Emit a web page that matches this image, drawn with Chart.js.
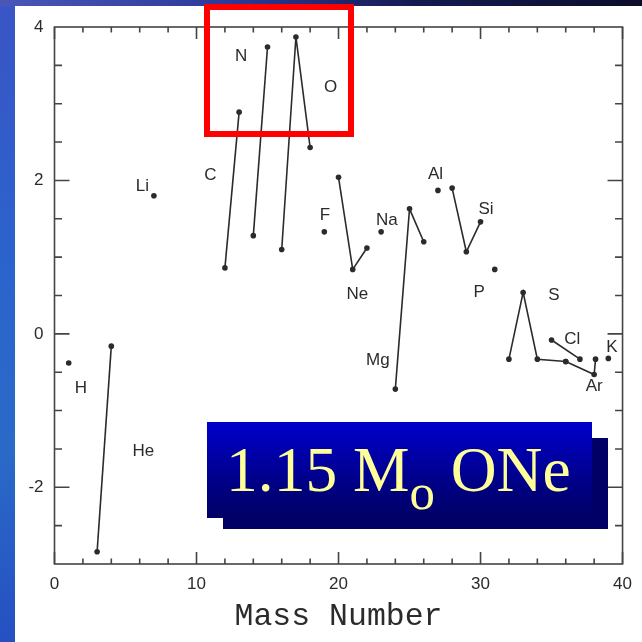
<!DOCTYPE html>
<html>
<head>
<meta charset="utf-8">
<title>1.15 Mo ONe</title>
<script src="https://cdn.jsdelivr.net/npm/chart.js@4.4.1/dist/chart.umd.min.js"></script>
<style>
    html, body { margin: 0; padding: 0; width: 642px; height: 642px; overflow: hidden; }
    body { position: relative; background: linear-gradient(to bottom, #3a55c6 0%, #2b63cc 40%, #2a6ac8 70%, #2550c2 100%); }
    #topStrip { position: absolute; left: 0; top: 0; width: 642px; height: 6px;
        background: linear-gradient(to right, #4a56b8 0%, #2c3a9c 35%, #141a50 65%, #0b0d2a 100%); }
    #panel { position: absolute; left: 15px; top: 6px; right: 0; bottom: 0; background: #ffffff; }
    #chart { position: absolute; left: 0; top: 0; }
    #redBox { position: absolute; left: 204px; top: 4px; width: 150px; height: 133px;
        border: 6px solid #ff0000; box-sizing: border-box; }
    #boxShadow { position: absolute; left: 223px; top: 438px; width: 385px; height: 91px; background: #000066; }
    #boxFront { position: absolute; left: 207px; top: 422px; width: 385px; height: 96px;
        background: linear-gradient(to bottom, #0000cc 0%, #000080 70%, #000066 100%); }
    #boxText { position: absolute; left: 19px; top: 0; line-height: 96px; white-space: nowrap;
        font-family: "Liberation Serif", serif; font-size: 63.5px; color: #ffff99; }
    #boxText sub { font-size: 0.8em; vertical-align: -18px; line-height: 0; }
</style>
</head>
<body>
<div id="topStrip"></div>
<div id="panel"></div>
<canvas id="chart" width="642" height="642"></canvas>
<div id="redBox"></div>
<div id="boxShadow"></div>
<div id="boxFront"><div id="boxText">1.15 M<sub>o</sub> ONe</div></div>

<script>
(function() {
    'use strict';

    // Axis ranges and ticks
    const xMin = 0, xMax = 40;
    const yMin = -3, yMax = 4;
    const xLabelTicks = [0, 10, 20, 30, 40];
    const yLabelTicks = [-2, 0, 2, 4];
    const xMinorTicks = [2, 4, 6, 8, 12, 14, 16, 18, 22, 24, 26, 28, 32, 34, 36, 38];
    const yMajorTicks = [-2, 0, 2];
    const yMinorTicks = [-2.5, -1.5, -1, -0.5, 0.5, 1, 1.5, 2.5, 3, 3.5];

    // Isotope series: mass number / value
    const hMass  = [1];              const hVal  = [-0.38];
    const heMass = [3, 4];           const heVal = [-2.84, -0.16];
    const liMass = [7];              const liVal = [1.80];
    const cMass  = [12, 13];         const cVal  = [0.86, 2.89];
    const nMass  = [14, 15];         const nVal  = [1.28, 3.74];
    const oMass  = [16, 17, 18];     const oVal  = [1.10, 3.87, 2.43];
    const fMass  = [19];             const fVal  = [1.33];
    const neMass = [20, 21, 22];     const neVal = [2.04, 0.84, 1.12];
    const naMass = [23];             const naVal = [1.33];
    const mgMass = [24, 25, 26];     const mgVal = [-0.72, 1.63, 1.20];
    const alMass = [27];             const alVal = [1.87];
    const siMass = [28, 29, 30];     const siVal = [1.90, 1.07, 1.46];
    const pMass  = [31];             const pVal  = [0.84];
    const sMass  = [32, 33, 34, 36]; const sVal  = [-0.33, 0.54, -0.33, -0.36];
    const clMass = [35, 37];         const clVal = [-0.08, -0.33];
    const arMass = [36, 38, 38.1];   const arVal = [-0.36, -0.53, -0.33];
    const kMass  = [39];             const kVal  = [-0.32];

    // Element labels (placed in data coordinates)
    const labelNames = ['H', 'He', 'Li', 'C', 'N', 'O', 'F', 'Ne', 'Na', 'Mg', 'Al', 'Si', 'P', 'S', 'Cl', 'Ar', 'K'];
    const labelX = [1.85, 6.26, 6.19, 10.98, 13.14, 19.44, 19.05, 21.32, 23.4, 22.77, 26.83, 30.39, 29.9, 35.16, 36.46, 38.0, 39.25];
    const labelY = [-0.71, -1.53, 1.92, 2.07, 3.62, 3.22, 1.55, 0.51, 1.48, -0.34, 2.08, 1.63, 0.54, 0.50, -0.07, -0.68, -0.17];

    const ink = '#2b2b2b';

    const series = [
        [hMass, hVal], [heMass, heVal], [liMass, liVal], [cMass, cVal], [nMass, nVal],
        [oMass, oVal], [fMass, fVal], [neMass, neVal], [naMass, naVal], [mgMass, mgVal],
        [alMass, alVal], [siMass, siVal], [pMass, pVal], [sMass, sVal], [clMass, clVal],
        [arMass, arVal], [kMass, kVal]
    ];

    const datasets = series.map(function(s, i) {
        return {
            label: labelNames[i],
            data: s[0].map((m, j) => ({ x: m, y: s[1][j] })),
            showLine: true,
            borderColor: ink,
            borderWidth: 1.6,
            pointRadius: 2.8,
            pointBackgroundColor: ink,
            pointBorderWidth: 0
        };
    });

    /**
     * Frame with inward tick marks on all four sides
     */
    const frameTicks = {
        id: 'frameTicks',
        beforeDatasetsDraw(chart) {
            const ctx = chart.ctx;
            const a = chart.chartArea;
            const xs = chart.scales.x, ys = chart.scales.y;
            ctx.save();
            ctx.strokeStyle = '#444444';
            ctx.lineWidth = 1.6;
            ctx.strokeRect(a.left, a.top, a.right - a.left, a.bottom - a.top);
            ctx.beginPath();
            function xTick(v, len) {
                const px = xs.getPixelForValue(v);
                ctx.moveTo(px, a.bottom); ctx.lineTo(px, a.bottom - len);
                ctx.moveTo(px, a.top); ctx.lineTo(px, a.top + len);
            }
            function yTick(v, len) {
                const py = ys.getPixelForValue(v);
                ctx.moveTo(a.left, py); ctx.lineTo(a.left + len, py);
                ctx.moveTo(a.right, py); ctx.lineTo(a.right - len, py);
            }
            xLabelTicks.forEach(v => xTick(v, 12));
            xMinorTicks.forEach(v => xTick(v, 5.5));
            yMajorTicks.forEach(v => yTick(v, 15));
            yMinorTicks.forEach(v => yTick(v, 7.5));
            ctx.stroke();
            ctx.restore();
        }
    };

    /**
     * Element names written next to their isotopes
     */
    const elementLabels = {
        id: 'elementLabels',
        afterDatasetsDraw(chart) {
            const ctx = chart.ctx;
            const xs = chart.scales.x, ys = chart.scales.y;
            ctx.save();
            ctx.fillStyle = ink;
            ctx.font = '17px "Liberation Sans", Arial, sans-serif';
            ctx.textAlign = 'center';
            ctx.textBaseline = 'middle';
            labelNames.forEach(function(name, i) {
                ctx.fillText(name, xs.getPixelForValue(labelX[i]), ys.getPixelForValue(labelY[i]));
            });
            ctx.restore();
        }
    };

    const tickFont = { family: '"Liberation Sans", Arial, sans-serif', size: 17 };

    new Chart(document.getElementById('chart').getContext('2d'), {
        type: 'scatter',
        data: { datasets: datasets },
        options: {
            responsive: false,
            animation: false,
            layout: { padding: { left: 0, top: 27, right: 14, bottom: 0 } },
            plugins: {
                legend: { display: false },
                tooltip: { enabled: false }
            },
            scales: {
                x: {
                    type: 'linear',
                    min: xMin,
                    max: xMax,
                    afterBuildTicks: function(scale) {
                        scale.ticks = xLabelTicks.map(v => ({ value: v }));
                    },
                    afterFit: function(scale) { scale.height = 78; },
                    grid: { display: false, drawTicks: false },
                    border: { display: false },
                    ticks: { color: ink, font: tickFont, padding: 10, maxRotation: 0 },
                    title: {
                        display: true,
                        text: 'Mass Number',
                        color: ink,
                        font: { family: '"Liberation Mono", "DejaVu Sans Mono", monospace', size: 31.5 },
                        padding: { top: 0, bottom: 6 }
                    }
                },
                y: {
                    type: 'linear',
                    min: yMin,
                    max: yMax,
                    afterBuildTicks: function(scale) {
                        scale.ticks = yLabelTicks.map(v => ({ value: v }));
                    },
                    afterFit: function(scale) { scale.width = 54.5; },
                    grid: { display: false, drawTicks: false },
                    border: { display: false },
                    ticks: { color: ink, font: tickFont, padding: 11 }
                }
            }
        },
        plugins: [frameTicks, elementLabels]
    });
})();
</script>
</body>
</html>
